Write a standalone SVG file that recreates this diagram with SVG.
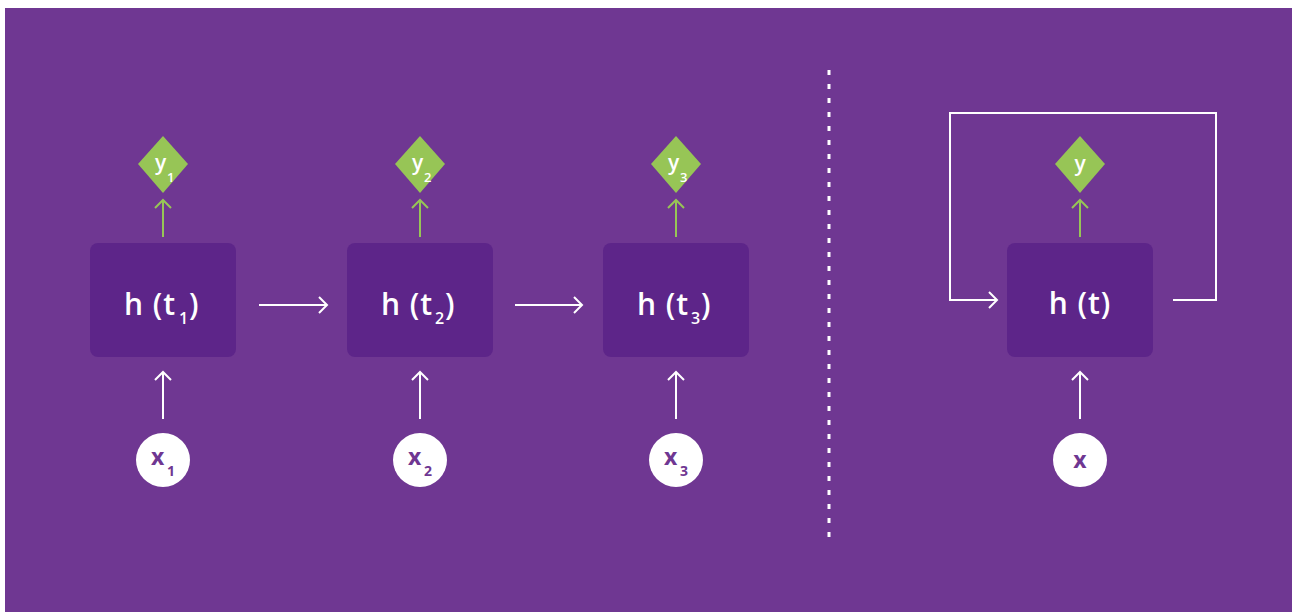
<svg xmlns="http://www.w3.org/2000/svg" width="1294" height="612" viewBox="0 0 1294 612">
  <defs>
    <marker id="head-white" markerUnits="userSpaceOnUse" markerWidth="12" markerHeight="20" viewBox="0 0 12 20" refX="10" refY="10" orient="auto">
      <path d="M2,2 L10,10 L2,18" fill="none" stroke="#ffffff" stroke-width="2"/>
    </marker>
    <marker id="head-green" markerUnits="userSpaceOnUse" markerWidth="12" markerHeight="20" viewBox="0 0 12 20" refX="10" refY="10" orient="auto">
      <path d="M2,2 L10,10 L2,18" fill="none" stroke="#97c556" stroke-width="2"/>
    </marker>
    <style>
      .cell { fill: #5d2589; }
      .out { fill: #97c556; }
      .in { fill: #ffffff; }
      .htxt { font-family: "Open Sans", "Liberation Sans", sans-serif; font-weight: 600; fill: #ffffff; font-size: 30px; letter-spacing: 1px; }
      .hsub { font-size: 16px; letter-spacing: 0; }
      .ytxt { font-family: "Open Sans", "Liberation Sans", sans-serif; font-weight: 600; fill: #ffffff; font-size: 21px; }
      .ysub { font-size: 13px; }
      .xtxt { font-family: "Open Sans", "Liberation Sans", sans-serif; font-weight: 700; fill: #6f3792; font-size: 23px; }
      .xsub { font-size: 14px; }
      .wire { fill: none; stroke: #ffffff; stroke-width: 2; }
      .wire-g { fill: none; stroke: #97c556; stroke-width: 2; }
    </style>
  </defs>

  <!-- backdrop -->
  <rect x="0" y="0" width="1294" height="612" fill="#ffffff"/>
  <rect x="5" y="8" width="1287" height="604" fill="#6f3792"/>

  <!-- divider between unrolled and folded forms -->
  <line x1="829" y1="70" x2="829" y2="542" stroke="#ffffff" stroke-width="3" stroke-dasharray="5 9"/>

  <!-- connectors -->
  <g id="connectors">
    <line class="wire" x1="259" y1="305" x2="327" y2="305" marker-end="url(#head-white)"/>
    <line class="wire" x1="515" y1="305" x2="582" y2="305" marker-end="url(#head-white)"/>

    <line class="wire" x1="163" y1="419" x2="163" y2="372" marker-end="url(#head-white)"/>
    <line class="wire" x1="420" y1="419" x2="420" y2="372" marker-end="url(#head-white)"/>
    <line class="wire" x1="676" y1="419" x2="676" y2="372" marker-end="url(#head-white)"/>
    <line class="wire" x1="1080" y1="419" x2="1080" y2="372" marker-end="url(#head-white)"/>

    <line class="wire-g" x1="163" y1="237" x2="163" y2="200" marker-end="url(#head-green)"/>
    <line class="wire-g" x1="420" y1="237" x2="420" y2="200" marker-end="url(#head-green)"/>
    <line class="wire-g" x1="676" y1="237" x2="676" y2="200" marker-end="url(#head-green)"/>
    <line class="wire-g" x1="1080" y1="237" x2="1080" y2="200" marker-end="url(#head-green)"/>

    <!-- recurrent loop -->
    <polyline class="wire" points="1173,300 1216,300 1216,113 950,113 950,300 997,300" marker-end="url(#head-white)"/>
  </g>

  <!-- hidden states -->
  <g id="h1">
    <rect class="cell" x="90" y="243" width="146" height="114" rx="8"/>
    <text class="htxt" x="124" y="315">h (t</text>
    <text class="htxt hsub" x="179" y="324">1</text>
    <text class="htxt" x="189" y="315">)</text>
  </g>
  <g id="h2">
    <rect class="cell" x="347" y="243" width="146" height="114" rx="8"/>
    <text class="htxt" x="381" y="315">h (t</text>
    <text class="htxt hsub" x="435" y="324">2</text>
    <text class="htxt" x="445" y="315">)</text>
  </g>
  <g id="h3">
    <rect class="cell" x="603" y="243" width="146" height="114" rx="8"/>
    <text class="htxt" x="637" y="315">h (t</text>
    <text class="htxt hsub" x="691" y="324">3</text>
    <text class="htxt" x="701" y="315">)</text>
  </g>
  <g id="h">
    <rect class="cell" x="1007" y="243" width="146" height="114" rx="8"/>
    <text class="htxt" x="1080" y="314" text-anchor="middle">h (t)</text>
  </g>

  <!-- outputs -->
  <g id="y1">
    <polygon class="out" points="163,136 188,164 163,193 138,164"/>
    <text class="ytxt" x="155" y="170">y</text>
    <text class="ytxt ysub" x="167" y="182">1</text>
  </g>
  <g id="y2">
    <polygon class="out" points="420,136 445,164 420,193 395,164"/>
    <text class="ytxt" x="412" y="170">y</text>
    <text class="ytxt ysub" x="424" y="182">2</text>
  </g>
  <g id="y3">
    <polygon class="out" points="676,136 701,164 676,193 651,164"/>
    <text class="ytxt" x="668" y="170">y</text>
    <text class="ytxt ysub" x="680" y="182">3</text>
  </g>
  <g id="y">
    <polygon class="out" points="1080,136 1105,164 1080,193 1055,164"/>
    <text class="ytxt" x="1080" y="171" text-anchor="middle">y</text>
  </g>

  <!-- inputs -->
  <g id="x1">
    <circle class="in" cx="163" cy="460" r="27"/>
    <text class="xtxt" x="151" y="465">x</text>
    <text class="xtxt xsub" x="167" y="476">1</text>
  </g>
  <g id="x2">
    <circle class="in" cx="420" cy="460" r="27"/>
    <text class="xtxt" x="408" y="465">x</text>
    <text class="xtxt xsub" x="424" y="476">2</text>
  </g>
  <g id="x3">
    <circle class="in" cx="676" cy="460" r="27"/>
    <text class="xtxt" x="664" y="465">x</text>
    <text class="xtxt xsub" x="680" y="476">3</text>
  </g>
  <g id="x">
    <circle class="in" cx="1080" cy="460" r="27"/>
    <text class="xtxt" x="1080" y="468" text-anchor="middle">x</text>
  </g>
</svg>
